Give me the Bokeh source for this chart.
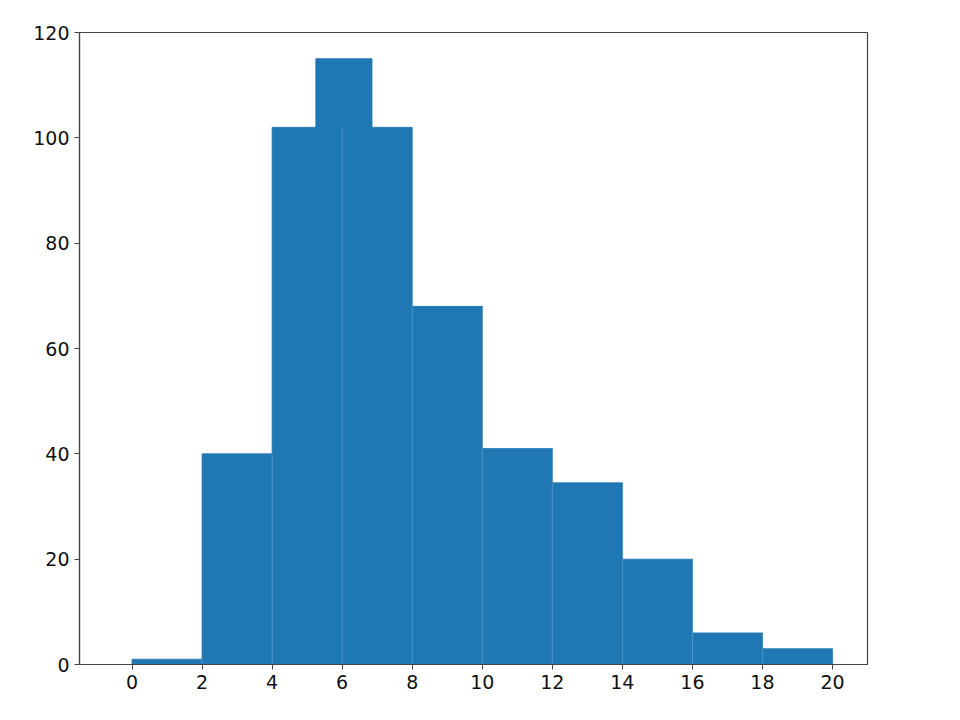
from bokeh.embed import file_html
from bokeh.models import FixedTicker, Range1d
from bokeh.plotting import figure
from bokeh.resources import INLINE

# histogram bins (width 2) and counts
bin_edges = [0, 2, 4, 6, 8, 10, 12, 14, 16, 18, 20]
counts = [1, 40, 102, 102, 68, 41, 34.5, 20, 6, 3]

# the taller block that stands above the two 102 bars
peak_left = [5.25]
peak_right = [6.85]
peak_count = [115]

x_ticks = [0, 2, 4, 6, 8, 10, 12, 14, 16, 18, 20]
y_ticks = [0, 20, 40, 60, 80, 100, 120]

BAR = "#1f77b4"
EDGE = "#5a9bd0"
AXIS = "#444444"
FONT = "DejaVu Sans"

p = figure(
    width=944,
    height=704,
    output_backend="svg",
    toolbar_location=None,
    x_range=Range1d(-1.5, 21.0),
    y_range=Range1d(0, 120),
    min_border_left=79,
    min_border_top=32,
    min_border_right=77,
    min_border_bottom=40,
)

p.quad(
    left=peak_left,
    right=peak_right,
    bottom=0,
    top=peak_count,
    fill_color=BAR,
    line_color=BAR,
)
p.quad(
    left=bin_edges[:-1],
    right=bin_edges[1:],
    bottom=0,
    top=counts,
    fill_color=BAR,
    line_color=BAR,
    line_width=0.8,
)

# faint lighter seams between neighbouring bars
inner_edges = bin_edges[1:-1]
seam_tops = [min(a, b) for a, b in zip(counts[:-1], counts[1:])]
p.segment(
    x0=inner_edges, y0=0, x1=inner_edges, y1=seam_tops,
    line_color=EDGE, line_width=0.8,
)

# Adjust plot settings
p.xgrid.visible = False
p.ygrid.visible = False
p.outline_line_color = AXIS
p.outline_line_width = 1.2
p.xaxis.ticker = FixedTicker(ticks=x_ticks)
p.yaxis.ticker = FixedTicker(ticks=y_ticks)
p.axis.axis_line_color = AXIS
p.axis.axis_line_width = 1.2
p.axis.major_tick_line_color = AXIS
p.axis.major_tick_out = 5
p.axis.major_tick_in = 0
p.axis.minor_tick_out = 0
p.axis.minor_tick_in = 0
p.axis.major_label_text_font = FONT
p.axis.major_label_text_font_size = "19px"
p.axis.major_label_text_color = "#111111"
p.axis.major_label_standoff = 5

open("out.html", "w").write(file_html(p, INLINE))
